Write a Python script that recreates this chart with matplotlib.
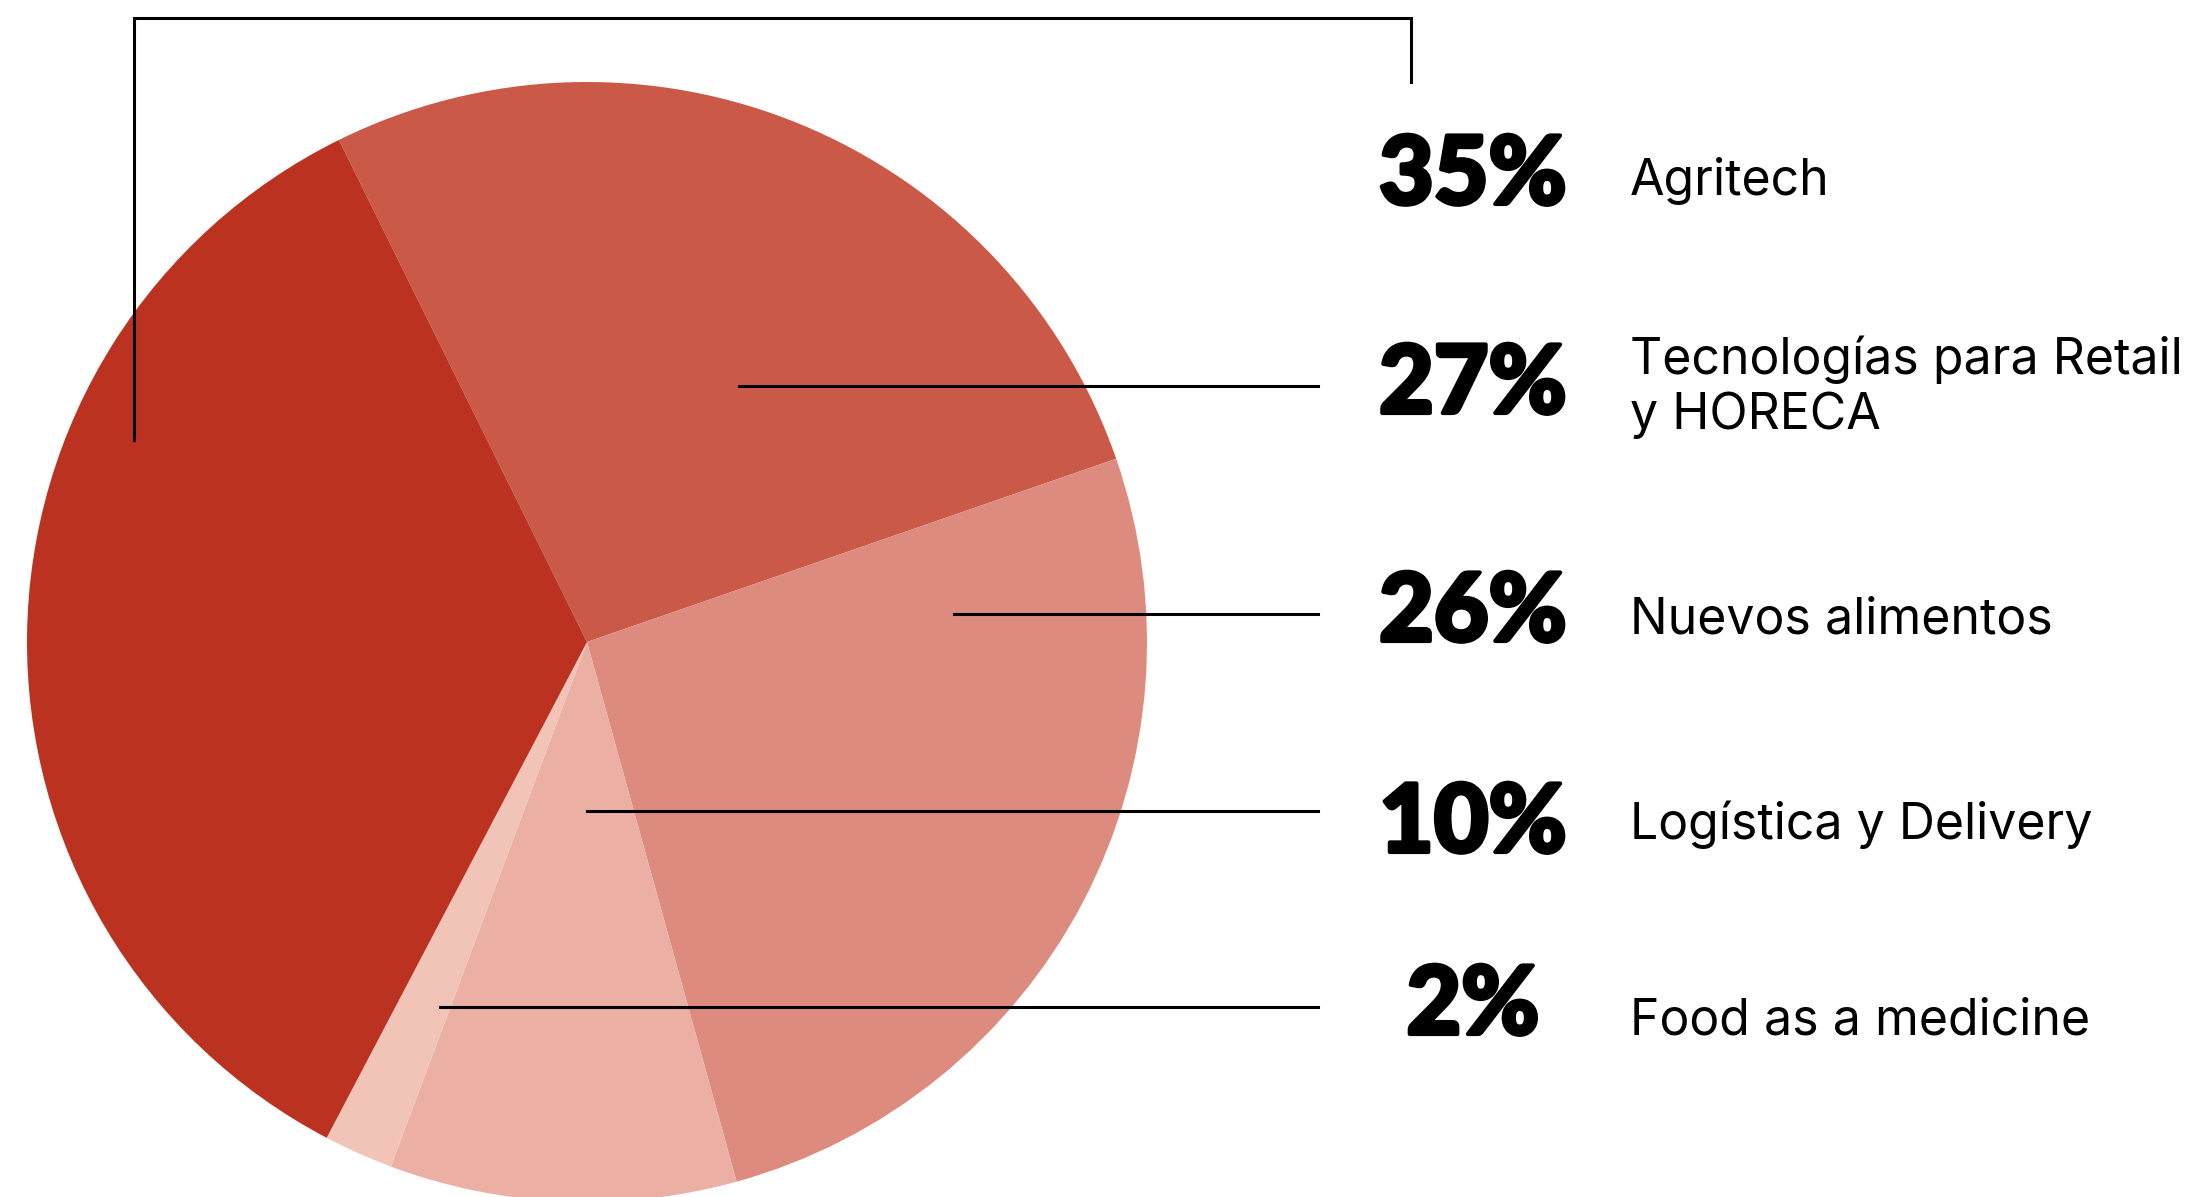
import matplotlib.pyplot as plt
import matplotlib.patheffects as pe

W, H = 2203, 1197

# slices in drawing order (clockwise from the top-left boundary)
slice_names = ["Tecnologías para Retail\ny HORECA", "Nuevos alimentos",
               "Logística y Delivery", "Food as a medicine", "Agritech"]
slice_values = [27, 26, 10, 2, 35]
slice_colors = ["#CA5947", "#DD8B7E", "#EBAFA4", "#F1C4B7", "#BC3220"]

# labels on the right, top to bottom
label_pcts = ["35%", "27%", "26%", "10%", "2%"]
label_names = ["Agritech", "Tecnologías para Retail\ny HORECA", "Nuevos alimentos",
               "Logística y Delivery", "Food as a medicine"]

fig = plt.figure(figsize=(W / 100, H / 100), dpi=100)
ax = fig.add_axes([0, 0, 1, 1])

cx, cy, r = 587, H - 642, 560
ax.pie(slice_values, colors=slice_colors, startangle=116.3, counterclock=False,
       center=(cx, cy), radius=r, frame=True,
       wedgeprops=dict(linewidth=0))
ax.set_xlim(0, W)
ax.set_ylim(0, H)
ax.set_aspect("equal")
ax.axis("off")

def Y(y):
    return H - y

lw = 2.2
# bracket leader for Agritech
ax.plot([134, 134, 1411, 1411], [Y(440), Y(18), Y(18), Y(82)], color="black", lw=lw,
        solid_joinstyle="miter")
# horizontal leaders
ax.plot([739, 1318], [Y(386), Y(386)], color="black", lw=lw)
ax.plot([954, 1318], [Y(614), Y(614)], color="black", lw=lw)
ax.plot([587, 1318], [Y(811), Y(811)], color="black", lw=lw)
ax.plot([440, 1318], [Y(1007), Y(1007)], color="black", lw=lw)

pct_y = [177, 386, 614, 825, 1007]
name_y = [181, 387, 620, 825, 1021]
thick = [pe.withStroke(linewidth=3, foreground="black")]
for p, n, py, ny in zip(label_pcts, label_names, pct_y, name_y):
    ax.text(1473, Y(py), p, ha="center", va="center", fontsize=68,
            family="Lato", fontweight="black", color="black", path_effects=thick)
    ax.text(1630, Y(ny), n, ha="left", va="center", fontsize=36,
            family="Inter", color="black", linespacing=1.2)

fig.savefig("out.png", dpi=100)
